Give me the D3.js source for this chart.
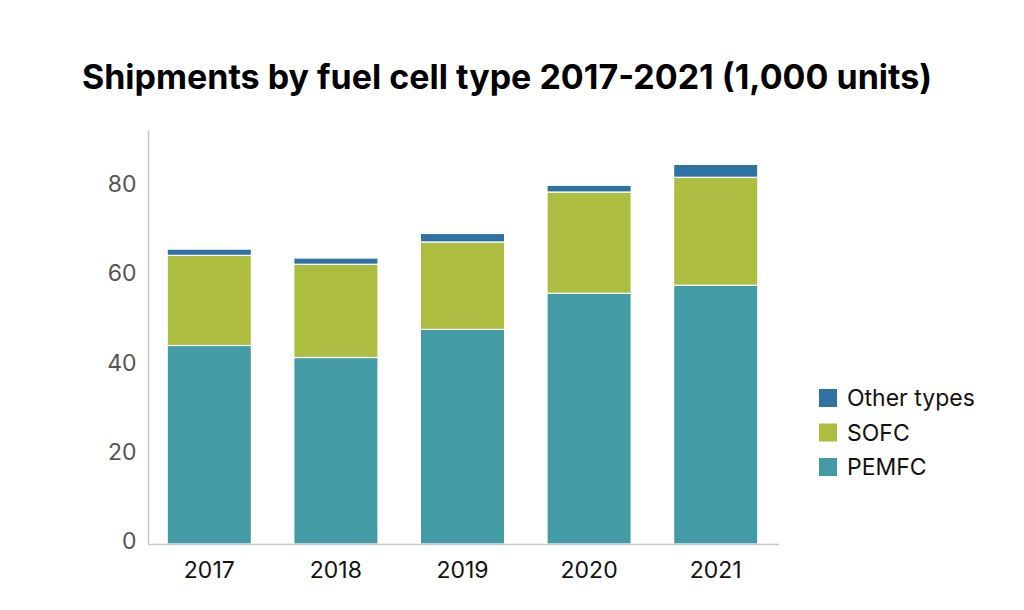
<!DOCTYPE html>
<html>
<head>
<meta charset="utf-8">
<script src="https://cdn.jsdelivr.net/npm/d3@7"></script>
<style>
  body { margin: 0; background: #fff; }
  text { font-family: Inter, "Noto Sans", sans-serif; }
</style>
</head>
<body>
<div id="chart"></div>
<script>
const years = ["2017", "2018", "2019", "2020", "2021"];
const pemfc = [44.5, 41.8, 48.1, 56.2, 58.0];
const sofc = [20.2, 20.9, 19.6, 22.7, 24.2];
const other = [1.4, 1.4, 1.9, 1.5, 2.9];
const seriesNames = ["PEMFC", "SOFC", "Other types"];
const colors = ["#439ca5", "#adbd40", "#2e71a3"];
const yTicks = [0, 20, 40, 60, 80];

const width = 1024, height = 610;

const svg = d3.select("#chart")
  .append("svg")
  .attr("width", width)
  .attr("height", height);

svg.append("text")
  .attr("x", 507)
  .attr("y", 89)
  .attr("text-anchor", "middle")
  .style("font-size", "34px")
  .style("font-weight", "700")
  .attr("fill", "#000")
  .text("Shipments by fuel cell type 2017-2021 (1,000 units)");

const table = years.map((y, i) => ({
  year: y, PEMFC: pemfc[i], SOFC: sofc[i], "Other types": other[i]
}));
const stacked = d3.stack().keys(seriesNames)(table);

const x = d3.scaleBand()
  .domain(years)
  .range([146, 779])
  .paddingInner(0.335)
  .paddingOuter(0.1675);

const y = d3.scaleLinear()
  .domain([0, 92.8])
  .range([544, 130]);

// bars
svg.append("g")
  .selectAll("g")
  .data(stacked)
  .enter()
  .append("g")
  .attr("fill", (d, i) => colors[i])
  .selectAll("rect")
  .data((d) => d)
  .enter()
  .append("rect")
  .attr("x", (d) => x(d.data.year))
  .attr("y", (d) => y(d[1]))
  .attr("width", x.bandwidth())
  .attr("height", (d) => y(d[0]) - y(d[1]))
  .attr("stroke", "#fff")
  .attr("stroke-width", 1.2);

// y axis
const yAxis = svg.append("g")
  .attr("transform", "translate(148.5,0)")
  .call(d3.axisLeft(y).tickValues(yTicks).tickSize(0).tickPadding(12));
yAxis.select(".domain").remove();
yAxis.selectAll("text")
  .style("font-size", "23px")
  .attr("fill", "#555")
  .attr("dy", "0.2em");
svg.append("line")
  .attr("x1", 148.5).attr("x2", 148.5)
  .attr("y1", 130).attr("y2", 544)
  .attr("stroke", "#c8c8c8")
  .attr("stroke-width", 1.5);

// x axis
const xAxis = svg.append("g")
  .attr("transform", "translate(0,544)")
  .call(d3.axisBottom(x).tickSize(0).tickPadding(18));
xAxis.select(".domain").remove();
xAxis.selectAll("text")
  .style("font-size", "23px")
  .attr("fill", "#111");
svg.append("line")
  .attr("x1", 148).attr("x2", 779)
  .attr("y1", 544.5).attr("y2", 544.5)
  .attr("stroke", "#c8c8c8")
  .attr("stroke-width", 1.5);

// legend
const legendOrder = ["Other types", "SOFC", "PEMFC"];
const legend = svg.append("g")
  .selectAll("g")
  .data(legendOrder)
  .enter()
  .append("g")
  .attr("transform", (d, i) => `translate(819,${389 + i * 34.5})`);
legend.append("rect")
  .attr("width", 18)
  .attr("height", 18)
  .attr("fill", (d) => colors[seriesNames.indexOf(d)]);
legend.append("text")
  .attr("x", 28)
  .attr("y", 9)
  .attr("dy", "0.36em")
  .style("font-size", "23px")
  .attr("fill", "#111")
  .text((d) => d);
</script>
</body>
</html>
